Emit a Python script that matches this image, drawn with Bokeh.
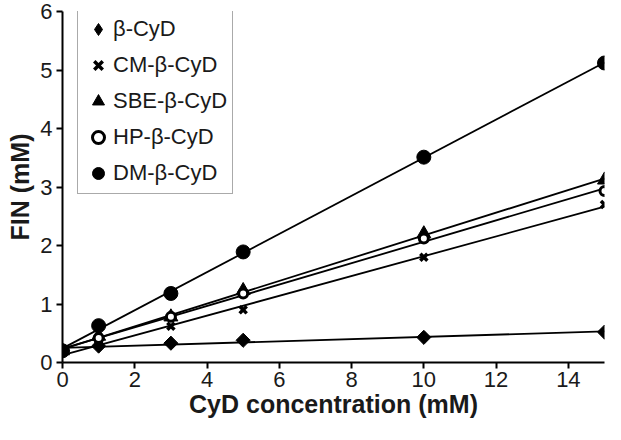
import numpy as np
from bokeh.plotting import figure
from bokeh.models import Legend, LegendItem, Range1d, FixedTicker
from bokeh.embed import file_html
from bokeh.resources import INLINE

conc = [0, 1, 3, 5, 10, 15]
names = ["β-CyD", "CM-β-CyD", "SBE-β-CyD", "HP-β-CyD", "DM-β-CyD"]
beta = [0.20, 0.28, 0.33, 0.38, 0.43, 0.52]
cm = [0.18, 0.30, 0.62, 0.90, 1.80, 2.70]
sbe = [0.20, 0.45, 0.78, 1.23, 2.20, 3.12]
hp = [0.20, 0.42, 0.78, 1.18, 2.12, 2.93]
dm = [0.20, 0.63, 1.18, 1.89, 3.51, 5.12]
series = [beta, cm, sbe, hp, dm]
x_ticks = [0, 2, 4, 6, 8, 10, 12, 14]
y_ticks = [0, 1, 2, 3, 4, 5, 6]

p = figure(width=605, height=424, output_backend="svg", toolbar_location=None,
           x_range=Range1d(0, 15), y_range=Range1d(0, 6),
           min_border_left=62, min_border_right=1, min_border_top=11, min_border_bottom=62)
p.outline_line_color = None
p.grid.visible = False

FONT = "Liberation Sans"
for ax in (p.xaxis[0], p.yaxis[0]):
    ax.axis_line_width = 2
    ax.major_tick_line_width = 2
    ax.major_tick_out = 6
    ax.major_tick_in = 0
    ax.minor_tick_line_color = None
    ax.major_label_text_font = FONT
    ax.major_label_text_font_size = "22px"
    ax.major_label_text_color = "#1a1a1a"
    ax.axis_label_text_font = FONT
    ax.axis_label_text_font_size = "25px"
    ax.axis_label_text_font_style = "bold"
    ax.axis_label_text_color = "#1a1a1a"
p.xaxis.ticker = FixedTicker(ticks=x_ticks)
p.yaxis.ticker = FixedTicker(ticks=y_ticks)
p.xaxis.axis_label = "CyD concentration (mM)"
p.yaxis.axis_label = "FIN (mM)"
p.xaxis.major_label_standoff = 3
p.yaxis.major_label_standoff = 4
p.xaxis.axis_label_standoff = 0
p.yaxis.axis_label_standoff = 3

xs = np.array(conc, dtype=float)
line_x = np.array([min(conc), max(conc)], dtype=float)
for ys in series:
    k, b = np.polyfit(xs, np.array(ys), 1)
    p.line(line_x, k * line_x + b, line_color="black", line_width=1.8)

p.scatter(conc, beta, marker="square", angle=np.pi / 4, size=10, color="black")
# diamond used only as legend glyph (size 0 on the plot; legend sizes its own glyph)
r0 = p.scatter(conc, beta, marker="diamond", size=0, color="black")
r1 = p.scatter(conc, cm, marker="x", size=10, line_color="black", line_width=3.5)
r2 = p.scatter(conc, sbe, marker="triangle", size=14, color="black")
r3 = p.scatter(conc, hp, marker="circle", size=9, fill_color="white", line_color="black", line_width=3)
r4 = p.scatter(conc, dm, marker="circle", size=14, color="black")

items = [LegendItem(label=n, renderers=[r]) for n, r in zip(names, [r0, r1, r2, r3, r4])]

legend = Legend(items=items, location=(15, 168),
                label_text_font=FONT, label_text_font_size="22px",
                label_text_color="#1a1a1a",
                glyph_height=30, glyph_width=30, label_height=30,
                spacing=6, padding=5, margin=0, label_standoff=0,
                border_line_color="#555555", border_line_width=1,
                background_fill_alpha=1)
p.add_layout(legend, "center")

open("out.html", "w").write(file_html(p, INLINE))
